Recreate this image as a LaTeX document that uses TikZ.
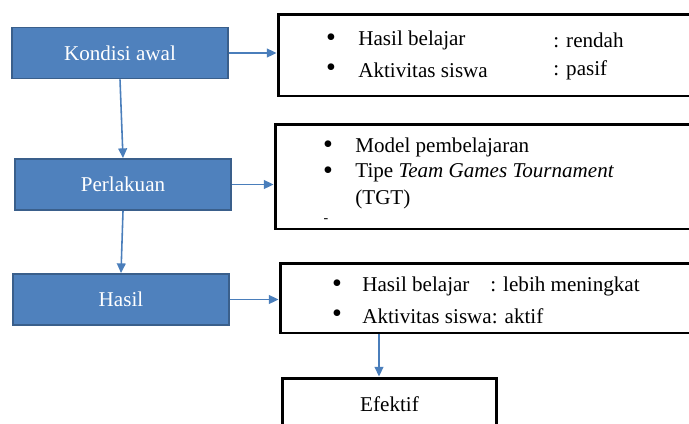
\documentclass[tikz,border=0pt]{standalone}
\usepackage{fontspec}
\setmainfont{LiberationSerif}[Extension=.ttf, UprightFont=*-Regular, ItalicFont=*-Italic, BoldFont=*-Bold, BoldItalicFont=*-BoldItalic]
\usetikzlibrary{arrows.meta}
\definecolor{boxblue}{HTML}{4F81BD}
\definecolor{boxedge}{HTML}{3A5F8B}
\definecolor{linkblue}{HTML}{4A7EBB}

\begin{document}
\begin{tikzpicture}[x=0.02cm, y=-0.02cm, font=\rmfamily\fontsize{12}{14}\selectfont,
  stage/.style={draw=boxedge, line width=1.1pt, fill=boxblue, text=white, minimum width=4.32cm, minimum height=1.02cm},
  info/.style={draw=black, line width=1.7pt, minimum width=8.6cm},
  link/.style={linkblue, line width=0.9pt, -{Triangle[length=5.5pt,width=5pt]}},
  dot/.style={inner sep=0pt, font=\fontsize{16}{16}\selectfont},
  txt/.style={anchor=west, inner sep=0pt}]
\useasboundingbox (0,0) rectangle (689,423);
\clip (0,0) rectangle (689,423);
\node[stage] (kondisi) at (120,53) {Kondisi awal};
\node[stage] (perlakuan) at (123,184.5) {Perlakuan};
\node[stage] (hasil) at (121,299.5) {Hasil};
\node[info, minimum height=1.64cm] (box1) at (493,55) {};
\node[info, minimum height=2.1cm] (box2) at (490,176.5) {};
\node[info, minimum height=1.4cm] (box3) at (495,298) {};
\node[info, minimum width=4.3cm, minimum height=1.04cm] (efektif) at (389.5,404) {Efektif};
\path
(331,40) node[dot] (b11) {\textbullet}
(358,40) node[txt] (hb1) {Hasil belajar}
(553,40) node[txt] (rendah) {: rendah}
(331,70) node[dot] (b12) {\textbullet}
(358,70) node[txt] (as1) {Aktivitas siswa}
(553,70) node[txt] (pasif) {: pasif};
\path
(328,147) node[dot] (b21) {\textbullet}
(355,147) node[txt] (model) {Model pembelajaran}
(328,173) node[dot] (b22) {\textbullet}
(355,173) node[txt] (tipe) {Tipe \textit{Team Games Tournament}}
(355,199) node[txt] (tgt) {(TGT)}
(326,221) node[inner sep=0pt, font=\fontsize{8}{9}\selectfont] (dash) {-};
\path
(337,286) node[dot] (b31) {\textbullet}
(362,286) node[txt] (hb3) {Hasil belajar}
(490,286) node[txt] (meningkat) {: lebih meningkat}
(337,316) node[dot] (b32) {\textbullet}
(362,316) node[txt] (as3) {Aktivitas siswa: aktif};
\draw[link] (kondisi.east) -- (kondisi.east -| box1.west);
\draw[link] (perlakuan.east) -- (perlakuan.east -| box2.west);
\draw[link] (hasil.east) -- (hasil.east -| box3.west);
\draw[link] (kondisi.south) -- (perlakuan.north);
\draw[link] (perlakuan.south) -- (hasil.north);
\draw[link] ([xshift=-0.21cm]efektif.north |- box3.south) -- ([xshift=-0.21cm]efektif.north);
\end{tikzpicture}
\end{document}
